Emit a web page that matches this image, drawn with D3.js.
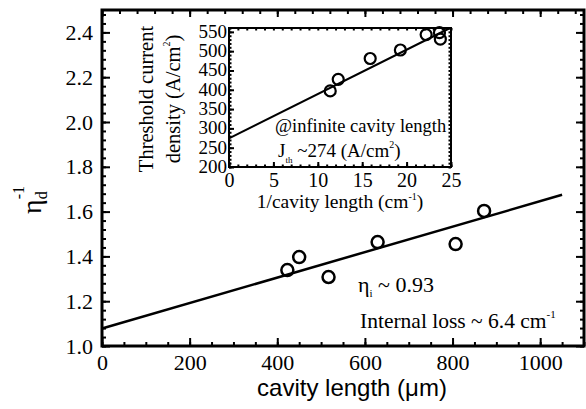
<!DOCTYPE html>
<html>
<head>
<meta charset="utf-8">
<script src="https://cdn.jsdelivr.net/npm/d3@7"></script>
<style>
  body { margin: 0; background: #fff; }
  svg { display: block; }
</style>
</head>
<body>
<div id="chart"></div>
<script>
// main plot: 1/eta_d vs cavity length
var cavityLength = [423, 450, 517, 629, 807, 872];
var invEff = [1.339, 1.397, 1.308, 1.464, 1.455, 1.603];
var mainFit = [[0, 1.078], [1050, 1.675]];
var mainXTicks = [0, 200, 400, 600, 800, 1000];
var mainYTicks = [1.0, 1.2, 1.4, 1.6, 1.8, 2.0, 2.2, 2.4];

// inset: threshold current density vs 1/cavity length
var invLength = [11.4, 12.3, 15.9, 19.3, 22.2, 23.7, 23.8];
var jth = [397, 427, 481, 503, 543, 548, 531];
var insetFit = [[0, 274], [24.9, 560]];
var insetXTicks = [0, 5, 10, 15, 20, 25];
var insetYTicks = [200, 250, 300, 350, 400, 450, 500, 550];

var W = 586, H = 409;
var serif = '"Liberation Serif", "Times New Roman", serif';
var sans = '"Liberation Sans", Arial, sans-serif';
var svg = d3.select("#chart").append("svg").attr("width", W).attr("height", H);

var x = d3.scaleLinear().domain([0, 1100]).range([102, 584]);
var y = d3.scaleLinear().domain([1.0, 2.5]).range([346, 10]);

function styleAxis(g) {
  g.attr("font-family", serif);
  g.select(".domain").remove();
  g.selectAll(".tick line").attr("stroke", "#000").attr("stroke-width", 2);
  g.selectAll(".tick text").attr("font-family", serif).attr("fill", "#000");
}

// minor ticks
svg.append("g").attr("transform", "translate(0,346)")
  .call(d3.axisBottom(x).tickValues(d3.range(0, 1101, 50)).tickSize(-4).tickFormat(""))
  .call(styleAxis);
svg.append("g").attr("transform", "translate(0,10)")
  .call(d3.axisTop(x).tickValues(d3.range(0, 1101, 40)).tickSize(-4).tickFormat(""))
  .call(styleAxis);
svg.append("g").attr("transform", "translate(102,0)")
  .call(d3.axisLeft(y).tickValues(d3.range(1.0, 2.5, 0.04)).tickSize(-4).tickFormat(""))
  .call(styleAxis);
svg.append("g").attr("transform", "translate(584,0)")
  .call(d3.axisRight(y).tickValues(d3.range(1.0, 2.5, 0.04)).tickSize(-4).tickFormat(""))
  .call(styleAxis);

// major ticks with labels
var xAx = svg.append("g").attr("transform", "translate(0,346)")
  .call(d3.axisBottom(x).tickValues(mainXTicks).tickSize(-8).tickPadding(8).tickFormat(d3.format("d")))
  .call(styleAxis);
xAx.selectAll("text").attr("font-size", 22);
svg.append("g").attr("transform", "translate(0,10)")
  .call(d3.axisTop(x).tickValues(mainXTicks).tickSize(-7).tickFormat(""))
  .call(styleAxis);
var yAx = svg.append("g").attr("transform", "translate(102,0)")
  .call(d3.axisLeft(y).tickValues(mainYTicks).tickSize(-8).tickPadding(9).tickFormat(d3.format(".1f")))
  .call(styleAxis);
yAx.selectAll("text").attr("font-size", 22);
svg.append("g").attr("transform", "translate(584,0)")
  .call(d3.axisRight(y).tickValues(mainYTicks).tickSize(-8).tickFormat(""))
  .call(styleAxis);

// frame
svg.append("rect").attr("x", 102).attr("y", 10).attr("width", 482).attr("height", 336)
  .attr("fill", "none").attr("stroke", "#000").attr("stroke-width", 3);

// fit line
svg.append("line")
  .attr("x1", x(mainFit[0][0])).attr("y1", y(mainFit[0][1]))
  .attr("x2", x(mainFit[1][0])).attr("y2", y(mainFit[1][1]))
  .attr("stroke", "#000").attr("stroke-width", 2.5);

svg.selectAll("circle.main").data(cavityLength).enter().append("circle")
  .attr("class", "main")
  .attr("cx", function(d) { return x(d); })
  .attr("cy", function(d, i) { return y(invEff[i]); })
  .attr("r", 6).attr("fill", "none").attr("stroke", "#000").attr("stroke-width", 2.5);

// labels
svg.append("text").attr("x", 352).attr("y", 396).attr("text-anchor", "middle")
  .attr("font-family", sans).attr("font-size", 24)
  .text("cavity length (\u03bcm)");

var yl = svg.append("text").attr("transform", "translate(41,200) rotate(-90)")
  .attr("text-anchor", "middle").attr("font-family", serif).attr("font-size", 28);
yl.append("tspan").text("\u03b7");
yl.append("tspan").attr("font-size", 16).attr("dy", 6).text("d");
yl.append("tspan").attr("font-size", 16).attr("dy", -23).attr("dx", -8).text("-1");

var t1 = svg.append("text").attr("x", 358).attr("y", 292).attr("font-family", serif).attr("font-size", 22);
t1.append("tspan").text("\u03b7");
t1.append("tspan").attr("font-size", 11).attr("dy", 5).text("i");
t1.append("tspan").attr("dy", -5).text(" ~ 0.93");

var t2 = svg.append("text").attr("x", 360).attr("y", 328).attr("font-family", serif).attr("font-size", 21.5);
t2.append("tspan").text("Internal loss ~ 6.4 cm");
t2.append("tspan").attr("font-size", 11).attr("dy", -10).text("-1");

// ---- inset ----
var ix = d3.scaleLinear().domain([0, 25]).range([229, 451]);
var iy = d3.scaleLinear().domain([200, 560]).range([167, 28]);

svg.append("rect").attr("x", 229).attr("y", 28).attr("width", 222).attr("height", 139).attr("fill", "#fff");

svg.append("g").attr("transform", "translate(0,167)")
  .call(d3.axisBottom(ix).tickValues(d3.range(0, 26, 1)).tickSize(-2.5).tickFormat(""))
  .call(styleAxis);
svg.append("g").attr("transform", "translate(0,28)")
  .call(d3.axisTop(ix).tickValues(d3.range(0, 26, 1)).tickSize(-2.5).tickFormat(""))
  .call(styleAxis);
svg.append("g").attr("transform", "translate(229,0)")
  .call(d3.axisLeft(iy).tickValues(d3.range(200, 561, 10)).tickSize(-2.5).tickFormat(""))
  .call(styleAxis);
svg.append("g").attr("transform", "translate(451,0)")
  .call(d3.axisRight(iy).tickValues(d3.range(200, 561, 10)).tickSize(-2.5).tickFormat(""))
  .call(styleAxis);

var ixAx = svg.append("g").attr("transform", "translate(0,167)")
  .call(d3.axisBottom(ix).tickValues(insetXTicks).tickSize(-5).tickPadding(6).tickFormat(d3.format("d")))
  .call(styleAxis);
ixAx.selectAll("text").attr("font-size", 20);
var iyAx = svg.append("g").attr("transform", "translate(229,0)")
  .call(d3.axisLeft(iy).tickValues(insetYTicks).tickSize(-5).tickPadding(2).tickFormat(d3.format("d")))
  .call(styleAxis);
iyAx.selectAll("text").attr("font-size", 19).attr("dy", "0.28em");

svg.append("rect").attr("x", 229).attr("y", 28).attr("width", 222).attr("height", 139)
  .attr("fill", "none").attr("stroke", "#000").attr("stroke-width", 2);

svg.append("line")
  .attr("x1", ix(insetFit[0][0])).attr("y1", iy(insetFit[0][1]))
  .attr("x2", ix(insetFit[1][0])).attr("y2", iy(insetFit[1][1]))
  .attr("stroke", "#000").attr("stroke-width", 2);

svg.selectAll("circle.inset").data(invLength).enter().append("circle")
  .attr("class", "inset")
  .attr("cx", function(d) { return ix(d); })
  .attr("cy", function(d, i) { return iy(jth[i]); })
  .attr("r", 5.5).attr("fill", "none").attr("stroke", "#000").attr("stroke-width", 2.2);

var il = svg.append("text").attr("x", 340).attr("y", 208).attr("text-anchor", "middle")
  .attr("font-family", serif).attr("font-size", 19.5);
il.append("tspan").text("1/cavity length (cm");
il.append("tspan").attr("font-size", 10).attr("dy", -8).text("-1");
il.append("tspan").attr("dy", 8).text(")");

svg.append("text").attr("transform", "translate(153,99) rotate(-90)").attr("text-anchor", "middle")
  .attr("font-family", serif).attr("font-size", 20.5).text("Threshold current");
var il2 = svg.append("text").attr("transform", "translate(180,99) rotate(-90)").attr("text-anchor", "middle")
  .attr("font-family", serif).attr("font-size", 20.5);
il2.append("tspan").text("density (A/cm");
il2.append("tspan").attr("font-size", 10).attr("dy", -10).text("2");
il2.append("tspan").attr("dy", 10).text(")");

svg.append("text").attr("x", 275).attr("y", 132).attr("font-family", serif).attr("font-size", 18.5)
  .text("@infinite cavity length");
var jt = svg.append("text").attr("x", 278).attr("y", 157).attr("font-family", serif).attr("font-size", 19);
jt.append("tspan").text("J");
jt.append("tspan").attr("font-size", 9).attr("dy", 6).text("th");
jt.append("tspan").attr("dy", -6).text(" ~274 (A/cm");
jt.append("tspan").attr("font-size", 10).attr("dy", -9).text("2");
jt.append("tspan").attr("dy", 9).text(")");
</script>
</body>
</html>
